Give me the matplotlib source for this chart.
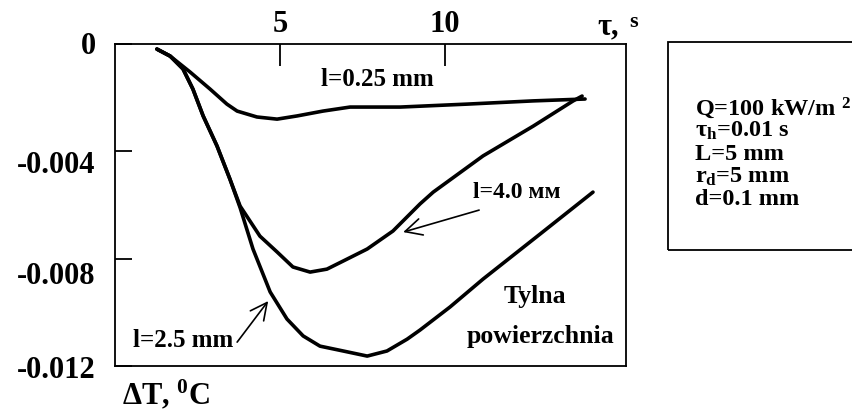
import matplotlib
matplotlib.use('Agg')
import matplotlib.pyplot as plt
from matplotlib.patches import Rectangle
from matplotlib.transforms import ScaledTranslation

plt.rcParams['font.family'] = ['Liberation Serif', 'DejaVu Serif']
plt.rcParams['font.weight'] = 'bold'
plt.rcParams['mathtext.fontset'] = 'custom'
plt.rcParams['mathtext.rm'] = 'Liberation Serif:bold'
plt.rcParams['mathtext.it'] = 'Liberation Serif:bold'
plt.rcParams['mathtext.bf'] = 'Liberation Serif:bold'

# time, s / temperature change, deg C
t_025 = [1.27, 1.67, 2.27, 2.88, 3.39, 3.70, 4.30, 4.91, 5.52, 6.30, 7.12, 8.64, 10.67, 12.67, 14.24]
dT_025 = [-0.00019, -0.00045, -0.00104, -0.00168, -0.00224, -0.0025, -0.00272, -0.0028,
          -0.00268, -0.0025, -0.00235, -0.00235, -0.00224, -0.00212, -0.00205]

t_40 = [1.27, 1.67, 2.06, 2.36, 2.67, 3.09, 3.48, 3.79, 4.39, 4.91, 5.39, 5.91, 6.42, 6.91,
        7.64, 8.42, 9.24, 9.64, 11.15, 12.67, 13.88, 14.15]
dT_40 = [-0.00019, -0.00045, -0.00093, -0.00168, -0.00268, -0.0038, -0.00503, -0.00604,
         -0.00716, -0.00775, -0.00831, -0.0085, -0.00839, -0.00809, -0.00764, -0.00697,
         -0.00596, -0.00552, -0.00417, -0.00306, -0.00212, -0.00194]

t_25 = [1.27, 1.67, 2.06, 2.36, 2.67, 3.09, 3.48, 3.79, 4.18, 4.70, 5.21, 5.70, 6.21, 6.91,
        7.64, 8.24, 8.85, 9.24, 10.15, 11.15, 12.88, 14.48]
dT_25 = [-0.00019, -0.00045, -0.00093, -0.00168, -0.00268, -0.0038, -0.00503, -0.0061,
         -0.00764, -0.00924, -0.01025, -0.01088, -0.01126, -0.01144, -0.01163, -0.01144,
         -0.011, -0.01066, -0.0098, -0.00876, -0.00708, -0.00552]

x_ticks = [5, 10]
y_ticks = [0, -0.004, -0.008, -0.012]
y_labels = ['0', '-0.004', '-0.008', '-0.012']

W, H = 853, 414


def px(x, y):
    return x / W, 1 - y / H


fig = plt.figure(figsize=(W / 100, H / 100), dpi=100)
ax = fig.add_axes([115 / W, 1 - 367 / H, (626 - 115) / W, (367 - 45) / H])

for t, v in [(t_025, dT_025), (t_40, dT_40), (t_25, dT_25)]:
    ax.plot(t, v, color='black', lw=2.6, solid_joinstyle='round', solid_capstyle='round')

ax.set_xlim(0, 15.48)
ax.set_ylim(-0.012, 0)
for s in ax.spines.values():
    s.set_linewidth(1.3)

ax.xaxis.tick_top()
ax.set_xticks(x_ticks)
ax.set_xticklabels([str(v) for v in x_ticks])
ax.tick_params(axis='x', direction='in', length=16, width=1.3, pad=4, labelsize=22)
ax.set_yticks(y_ticks)
ax.set_yticklabels(y_labels)
ax.tick_params(axis='y', direction='in', length=12, width=1.3, pad=14, labelsize=22)

# the hand-drawn original puts the middle labels a bit below their ticks
shifts = [1.5, -7, -9.5, 0]
for lab, dy in zip(ax.get_yticklabels(), shifts):
    lab.set_transform(lab.get_transform() + ScaledTranslation(0, dy / 72, fig.dpi_scale_trans))

# labels and arrows
ax.text(7.94, -0.0013, 'l=0.25 mm', fontsize=18, ha='center', va='center')
ax.text(12.18, -0.00548, 'l=4.0 мм', fontsize=17, ha='center', va='center')
ax.annotate('', xy=(8.73, -0.00701), xytext=(11.03, -0.00619),
            arrowprops=dict(arrowstyle='->,head_length=0.6,head_width=0.3', lw=1.2,
                            color='black', shrinkA=0, shrinkB=0, mutation_scale=20))
ax.text(2.06, -0.011, 'l=2.5 mm', fontsize=18, ha='center', va='center')
ax.annotate('', xy=(4.64, -0.00958), xytext=(3.70, -0.01111),
            arrowprops=dict(arrowstyle='->,head_length=0.6,head_width=0.3', lw=1.2,
                            color='black', shrinkA=0, shrinkB=0, mutation_scale=20))
ax.text(12.73, -0.00939, 'Tylna', fontsize=18.5, ha='center', va='center')
ax.text(12.88, -0.01088, 'powierzchnia', fontsize=18.5, ha='center', va='center')

# axis titles
fig.text(*px(122, 395), 'ΔT, $^{\\rm 0}$C', fontsize=22, ha='left', va='center')
fig.text(*px(597, 27), 'τ,', fontsize=22, ha='left', va='center')
fig.text(*px(629, 22), 's', fontsize=16, ha='left', va='center')

# parameter box
x0, y0 = px(668, 251)
x1, y1 = px(870, 43)
fig.patches.append(Rectangle((x0, y0), x1 - x0, y1 - y0, transform=fig.transFigure,
                             fill=False, edgecolor='black', lw=1.3))
box_lines = ['Q=100 kW/m $^{\\rm 2}$', 'τ$_{\\rm h}$=0.01 s', 'L=5 mm', 'r$_{\\rm d}$=5 mm', 'd=0.1 mm']
for i, s in enumerate(box_lines):
    fig.text(*px(695, 108 + 23 * i), s, fontsize=17.5, ha='left', va='center')

fig.savefig('out.png', dpi=100)
